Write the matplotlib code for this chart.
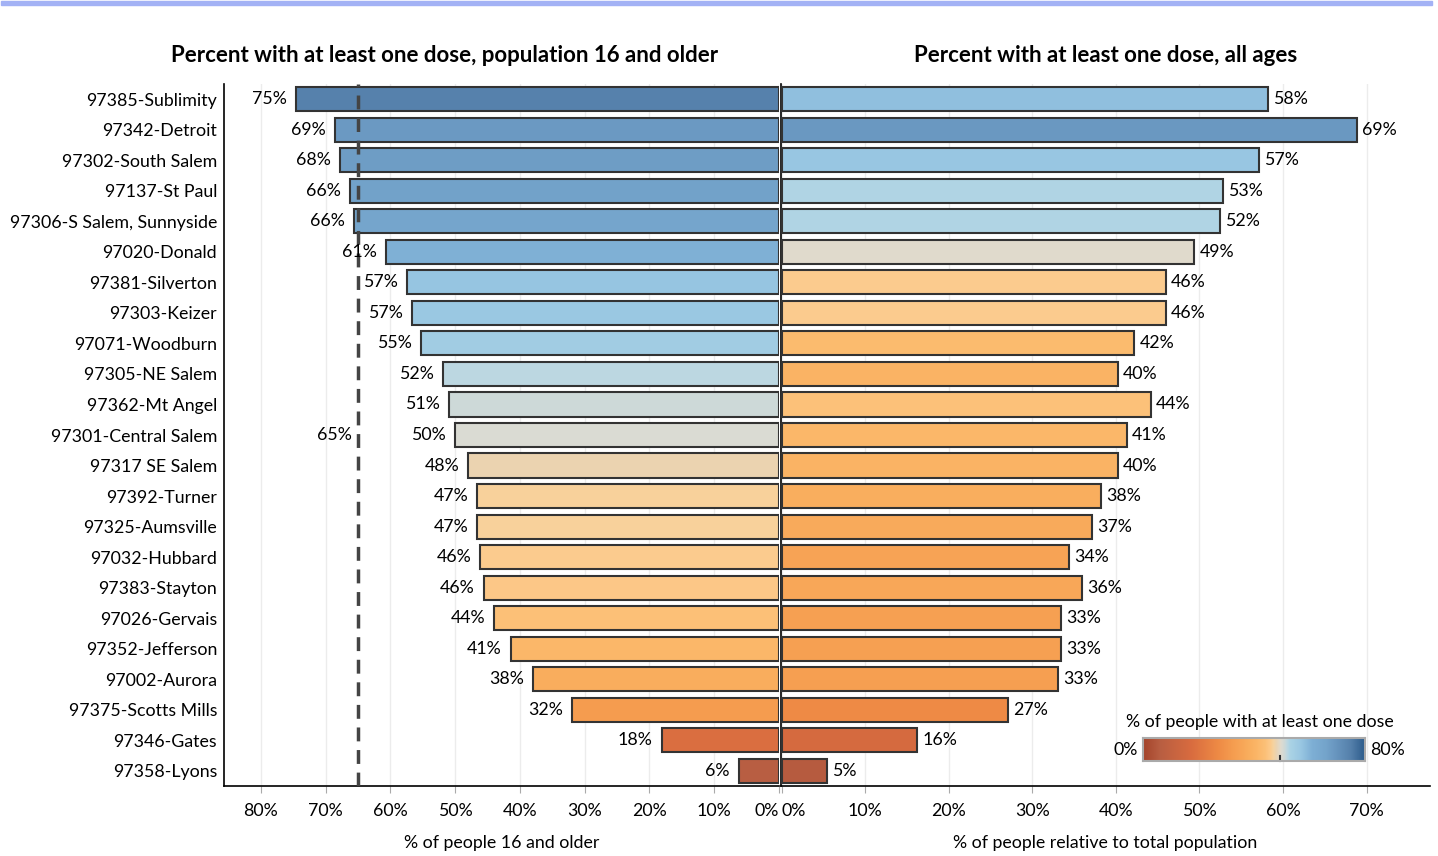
import matplotlib.pyplot as plt
import numpy as np
from matplotlib.colors import LinearSegmentedColormap
from matplotlib.patches import Rectangle

plt.rcParams['font.family'] = ['Lato', 'DejaVu Sans']

zips = ["97385-Sublimity", "97342-Detroit", "97302-South Salem", "97137-St Paul",
        "97306-S Salem, Sunnyside", "97020-Donald", "97381-Silverton", "97303-Keizer",
        "97071-Woodburn", "97305-NE Salem", "97362-Mt Angel", "97301-Central Salem",
        "97317 SE Salem", "97392-Turner", "97325-Aumsville", "97032-Hubbard",
        "97383-Stayton", "97026-Gervais", "97352-Jefferson", "97002-Aurora",
        "97375-Scotts Mills", "97346-Gates", "97358-Lyons"]

pct_16plus = [74.6, 68.6, 67.8, 66.3, 65.6, 60.7, 57.4, 56.6, 55.3, 51.9, 51.0, 50.0,
              48.0, 46.6, 46.6, 46.1, 45.6, 44.0, 41.4, 38.0, 32.0, 18.1, 6.2]
pct_all = [58.2, 68.9, 57.1, 52.8, 52.5, 49.4, 46.0, 46.0, 42.2, 40.2, 44.2, 41.3,
           40.2, 38.2, 37.1, 34.4, 35.9, 33.4, 33.4, 33.1, 27.1, 16.2, 5.4]

target = 65

# colour nodes along 0..80 %
cnodes = [(0, '#a4442b'), (6, '#b85e42'), (17, '#d86b3f'), (27, '#ee8a45'),
          (33, '#f69f51'), (38, '#f9ad5d'), (41, '#fbb667'), (44, '#fcc077'),
          (46, '#fcca8c'), (47, '#f6d3a0'), (48, '#ebd3b0'), (49.5, '#e1dacb'),
          (50, '#dcdbd2'), (51, '#d0d9d6'), (52, '#bdd7e1'), (53, '#abd3e5'),
          (57, '#99c7e2'), (61, '#7eafd5'), (66, '#74a4cb'), (68.5, '#6c9ac3'),
          (75, '#5580ab'), (80, '#2e5d8c')]
cmap = LinearSegmentedColormap.from_list('ob', [(v / 80, c) for v, c in cnodes])

W, H = 1438, 856
fig = plt.figure(figsize=(W / 100, H / 100), dpi=100)

def box(x0, y0, x1, y1):
    return [x0 / W, 1 - y1 / H, (x1 - x0) / W, (y1 - y0) / H]

axL = fig.add_axes(box(224, 84, 779, 786))
axR = fig.add_axes(box(781, 84, 1430, 786))

y = np.arange(len(zips))
fs = 12.8

for ax, vals in [(axL, pct_16plus), (axR, pct_all)]:
    ax.barh(y, vals, height=0.79, color=cmap(np.array(vals) / 80),
            edgecolor='#333333', linewidth=1.5, zorder=3)
    ax.set_ylim(len(zips) - 0.5, -0.5)
    ax.set_xticks(range(0, 90, 10) if ax is axL else range(0, 80, 10))
    ax.xaxis.set_major_formatter(lambda v, p: f"{v:.0f}%")
    ax.grid(axis='x', color='#ececec', linewidth=1, zorder=0)
    ax.tick_params(axis='x', length=5, color='#aaaaaa', labelsize=fs, pad=7)
    for s in ['top', 'right']:
        ax.spines[s].set_visible(False)
    ax.spines['bottom'].set_linewidth(1.2)
    ax.spines['left'].set_linewidth(1.2)

axL.set_xlim(85.7, 0)
axL.spines['right'].set_visible(False)
axL.set_yticks(y)
axL.set_yticklabels(zips, fontsize=fs)
axL.tick_params(axis='y', length=0, pad=5)

axR.set_xlim(-0.1, 77.6)
axR.set_yticks([])

# keep the two 0% labels apart
fig.canvas.draw()
axL.get_xticklabels()[0].set_ha('right')
axR.get_xticklabels()[0].set_ha('left')

for i, v in enumerate(pct_16plus):
    axL.text(v + 1.4, i, f"{v:.0f}%", ha='right', va='center', fontsize=fs, zorder=5)
for i, v in enumerate(pct_all):
    axR.text(v + 0.6, i, f"{v:.0f}%", ha='left', va='center', fontsize=fs, zorder=5)

axL.axvline(target, color='#444444', linewidth=2.5, linestyle=(0, (4, 2.5)), zorder=4)
axL.text(target + 1.0, 11, f"{target}%", ha='right', va='center', fontsize=fs)

axL.set_xlabel("% of people 16 and older", fontsize=fs, labelpad=12)
axR.set_xlabel("% of people relative to total population", fontsize=fs, labelpad=12)

fig.text(445 / W, 1 - 55 / H, "Percent with at least one dose, population 16 and older",
         ha='center', va='center', fontsize=16, fontweight='bold')
fig.text(1106 / W, 1 - 55 / H, "Percent with at least one dose, all ages",
         ha='center', va='center', fontsize=16, fontweight='bold')

# top border strip
fig.patches.append(Rectangle((1 / W, 1 - 4.5 / H), 1431 / W, 3.5 / H,
                             transform=fig.transFigure, color='#a3b2f5'))

# colour legend
cax = fig.add_axes(box(1143, 738, 1365, 761))
grad = np.linspace(0, 1, 256).reshape(1, -1)
cax.imshow(grad, aspect='auto', cmap=cmap, extent=[0, 80, 0, 1])
cax.set_xticks([])
cax.set_yticks([])
for s in cax.spines.values():
    s.set_color('#aaaaaa')
    s.set_linewidth(1.5)
cax.plot([49.4, 49.4], [0, 0.2], color='#333333', linewidth=1.5, clip_on=False)
fig.text(1260 / W, 1 - 722 / H, "% of people with at least one dose",
         ha='center', va='center', fontsize=fs)
fig.text(1138 / W, 1 - 750 / H, "0%", ha='right', va='center', fontsize=fs)
fig.text(1370 / W, 1 - 750 / H, "80%", ha='left', va='center', fontsize=fs)

fig.savefig("out.png", dpi=100)
